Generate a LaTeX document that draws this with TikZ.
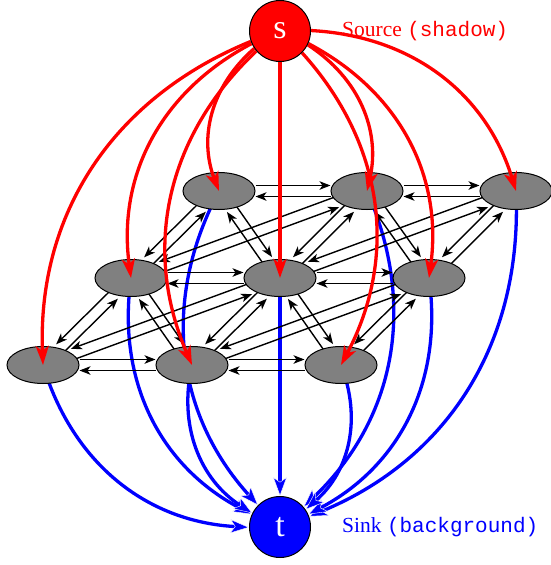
\documentclass[tikz,border=0pt]{standalone}
\usepackage{fontspec}
\setmainfont{Liberation Serif}
\setmonofont{Liberation Mono}
\usetikzlibrary{shapes.geometric,arrows.meta}
\pgfdeclarelayer{bg}
\pgfdeclarelayer{fg}
\pgfsetlayers{bg,main,fg}
\newcommand\epair[6]{%
  \draw[bl,transform canvas={shift={(#3pt,#4pt)}}] (#1) -- (#2);
  \draw[bl,transform canvas={shift={(#5pt,#6pt)}}] (#2) -- (#1);
}
\begin{document}
\begin{tikzpicture}[x=1pt,y=-1pt,
  gnode/.style={ellipse,draw=black,line width=1pt,fill=gray,minimum width=72pt,minimum height=37pt,inner sep=0pt},
  term/.style={circle,draw=black,line width=1pt,minimum size=61pt,inner sep=0pt,text=white,font=\fontsize{34}{34}\selectfont},
  bl/.style={line width=1.4pt,-{Stealth[length=11pt,width=8.5pt,inset=3pt]}},
  rd/.style={red,line width=3.3pt,-{Stealth[length=19pt,width=13pt,inset=5pt]}},
  bu/.style={blue,line width=3.3pt,-{Stealth[length=19pt,width=14pt,inset=5pt,fill=blue,color=white,line width=0.4pt]}},
  lab/.style={anchor=base west,inner sep=0pt,font=\fontsize{21.5}{24}\selectfont}
]
\useasboundingbox (0,0) rectangle (551,565);
\begin{pgfonlayer}{fg}
\node[term,fill=red] (s) at (280,31) {s};
\node[term,fill=blue] (t) at (280,527) {t};
\end{pgfonlayer}
\node[gnode] (A1) at (219,191) {};
\node[gnode] (A2) at (367,191) {};
\node[gnode] (A3) at (516,191) {};
\node[gnode] (B1) at (131,278) {};
\node[gnode] (B2) at (280,278) {};
\node[gnode] (B3) at (429,278) {};
\node[gnode] (C1) at (43,365) {};
\node[gnode] (C2) at (192,365) {};
\node[gnode] (C3) at (341,365) {};
\node[lab,text=red] (srclab) at (342,36) {Source {\fontsize{21}{24}\selectfont\ttfamily(shadow)}};
\node[lab,text=blue] (snklab) at (342,532) {Sink {\fontsize{21}{24}\selectfont\ttfamily(background)}};
\begin{pgfonlayer}{bg}
% sink edges
\draw[bu] (A1.center) to[bend right=35] (t);
\draw[bu] (B1.center) to[bend right=35] (t);
\draw[bu] (C1.center) to[bend right=35] (t);
\draw[bu] (C2.center) to[bend right=35] (t);
\draw[bu] (B2.center) -- (t);
\draw[bu] (A2.center) to[bend left=35] (t);
\draw[bu] (A3.center) to[bend left=35] (t);
\draw[bu] (B3.center) to[bend left=35] (t);
\draw[bu] (C3.center) to[bend left=35] (t);
% grid edges
\epair{A1}{A2}{0}{5.5}{0}{-5.5}
\epair{A2}{A3}{0}{5.5}{0}{-5.5}
\epair{B1}{B2}{0}{5.5}{0}{-5.5}
\epair{B2}{B3}{0}{5.5}{0}{-5.5}
\epair{C1}{C2}{0}{5.5}{0}{-5.5}
\epair{C2}{C3}{0}{5.5}{0}{-5.5}
\epair{A1}{B1}{-3.87}{3.91}{3.87}{-3.91}
\epair{A2}{B2}{-3.87}{3.91}{3.87}{-3.91}
\epair{A3}{B3}{-3.87}{3.91}{3.87}{-3.91}
\epair{B1}{C1}{-3.87}{3.91}{3.87}{-3.91}
\epair{B2}{C2}{-3.87}{3.91}{3.87}{-3.91}
\epair{B3}{C3}{-3.87}{3.91}{3.87}{-3.91}
\epair{A1}{B2}{4.53}{3.12}{-4.53}{-3.12}
\epair{A2}{B3}{4.53}{3.12}{-4.53}{-3.12}
\epair{B1}{C2}{4.53}{3.12}{-4.53}{-3.12}
\epair{B2}{C3}{4.53}{3.12}{-4.53}{-3.12}
\epair{B1}{A2}{1.90}{-5.16}{-1.90}{5.16}
\epair{B2}{A3}{1.90}{-5.16}{-1.90}{5.16}
\epair{C1}{B2}{1.90}{-5.16}{-1.90}{5.16}
\epair{C2}{B3}{1.90}{-5.16}{-1.90}{5.16}
\end{pgfonlayer}
% source edges
\draw[rd] (s) to[bend right=35] (A1.center);
\draw[rd] (s) to[bend right=35] (B1.center);
\draw[rd] (s) to[bend right=35] (C1.center);
\draw[rd] (s) to[bend right=35] (C2.center);
\draw[rd] (s) -- (B2.center);
\draw[rd] (s) to[bend left=35] (A2.center);
\draw[rd] (s) to[bend left=35] (A3.center);
\draw[rd] (s) to[bend left=35] (B3.center);
\draw[rd] (s) to[bend left=35] (C3.center);
\end{tikzpicture}
\end{document}
